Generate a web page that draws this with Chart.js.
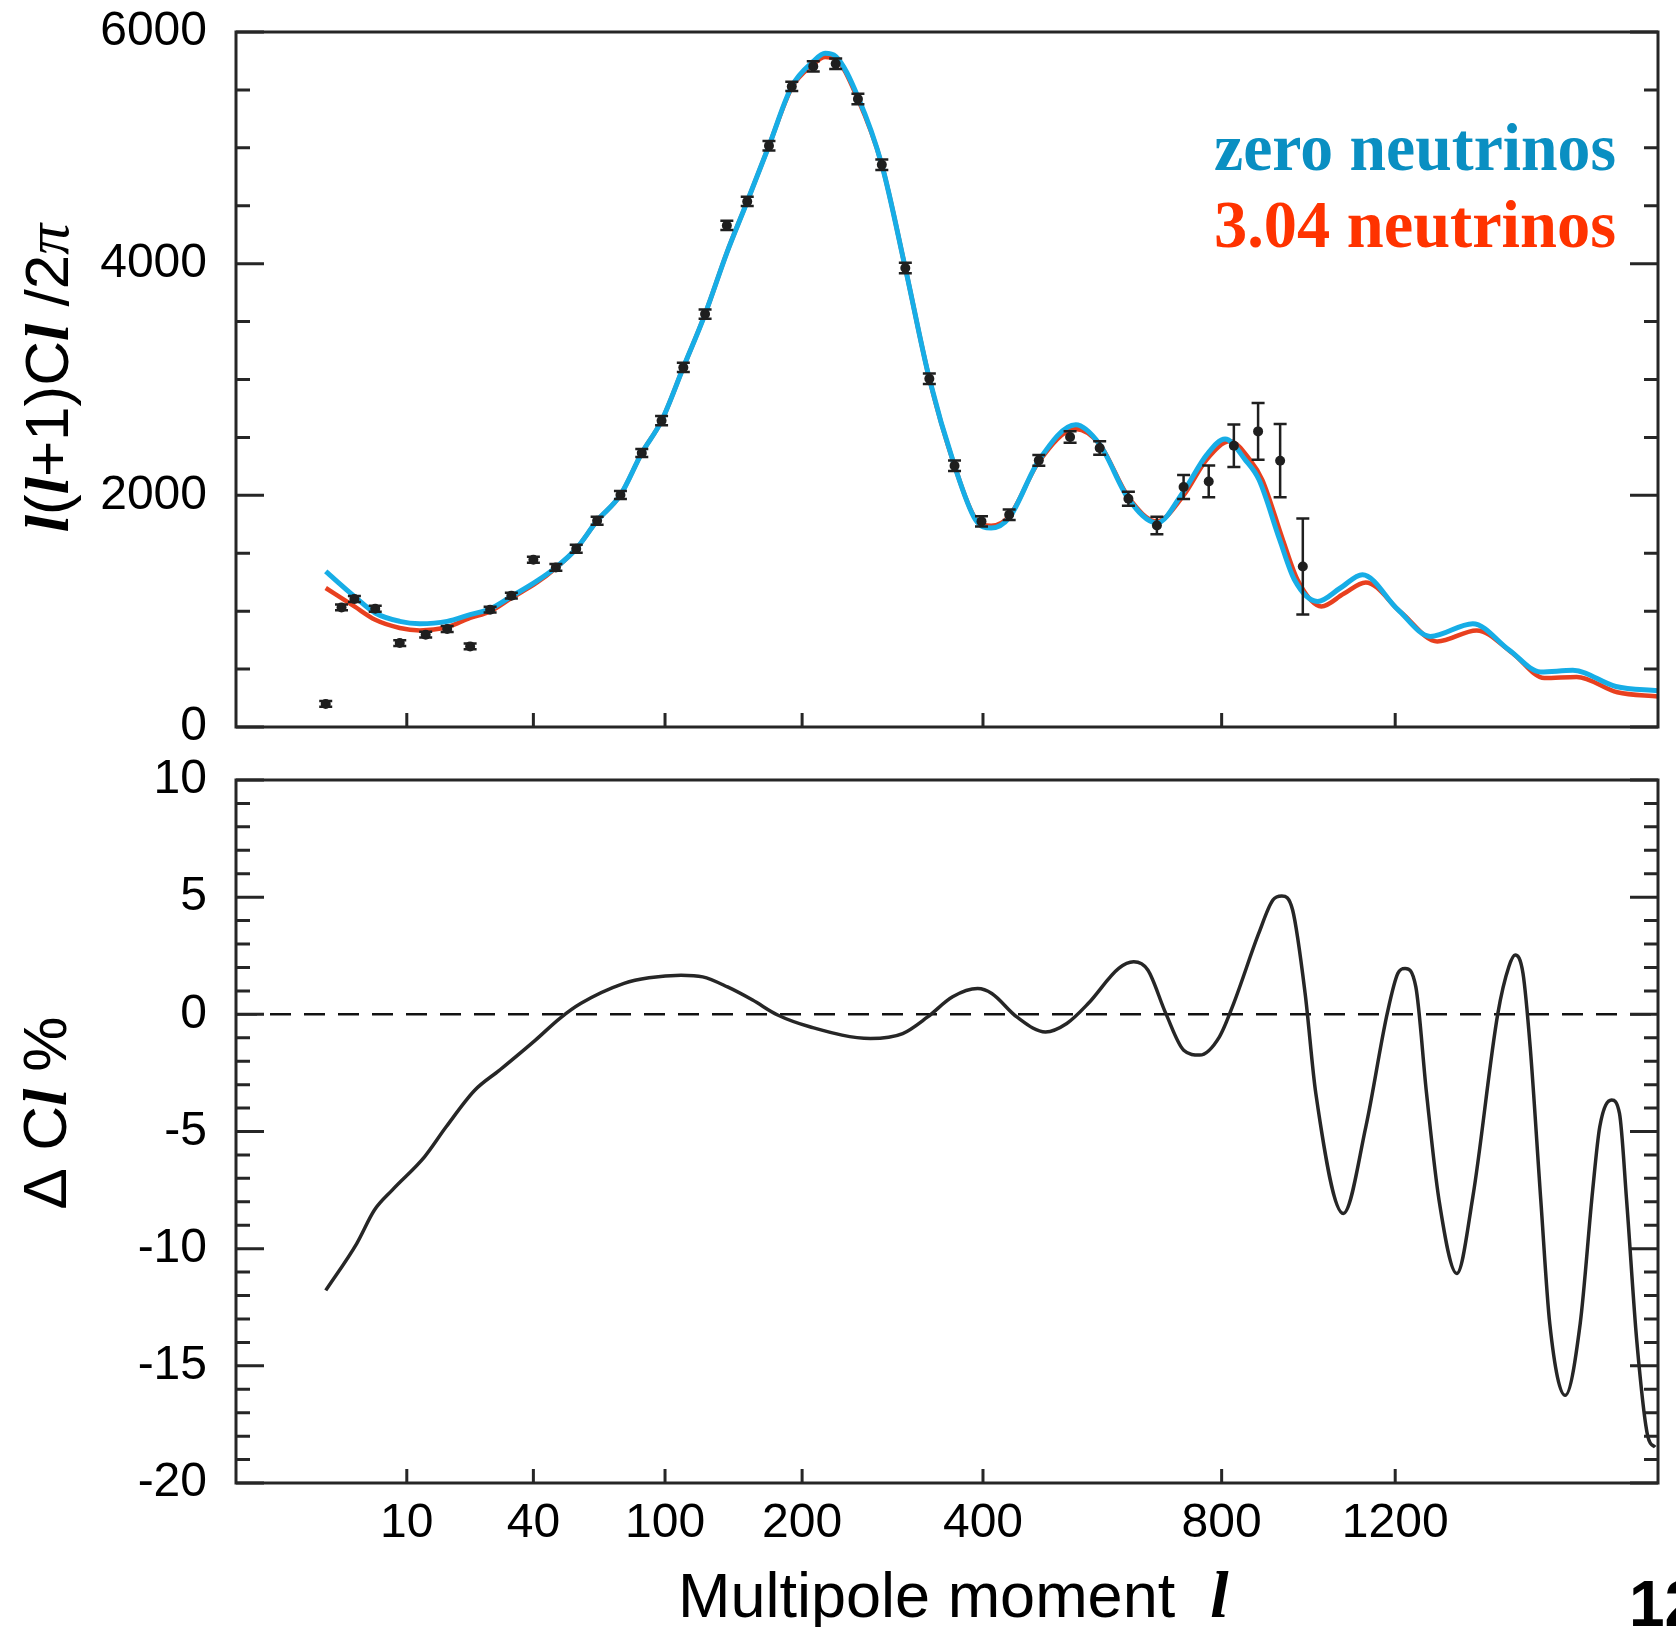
<!DOCTYPE html>
<html>
<head>
<meta charset="utf-8">
<script src="https://cdn.jsdelivr.net/npm/chart.js@4.4.1/dist/chart.umd.min.js"></script>
<style>
  html, body { margin: 0; padding: 0; background: #fff; }
  #wrap { position: relative; width: 1676px; height: 1627px; overflow: hidden; }
  canvas { position: absolute; left: 0; top: 0; }
</style>
</head>
<body>
<div id="wrap">
  <canvas id="topChart" width="1676" height="1627"></canvas>
  <canvas id="bottomChart" width="1676" height="1627"></canvas>
</div>
<script>
// multipole ticks on the shared x axis
var xTicks = [10, 40, 100, 200, 400, 800, 1200];

// model spectrum, zero neutrinos (l, l(l+1)Cl/2pi)
var zeroL = [2, 4, 6, 9, 12, 17, 22, 27, 33, 41, 48, 56, 65, 76, 87, 98, 111, 125, 140, 155, 172, 191, 210, 221, 231, 253, 278, 304, 332, 363, 390, 411, 436, 479, 536, 575, 624, 675, 725, 770, 807, 850, 878, 923, 956, 1009, 1063, 1117, 1207, 1293, 1411, 1516, 1613, 1714, 1855, 2000];
var zeroCl = [1343, 1127, 984, 912, 892, 912, 970, 1019, 1127, 1257, 1378, 1539, 1781, 2003, 2365, 2644, 3104, 3565, 4094, 4537, 5018, 5530, 5746, 5816, 5790, 5440, 4854, 3962, 3007, 2256, 1790, 1718, 1807, 2302, 2610, 2440, 1971, 1761, 2034, 2350, 2486, 2300, 2134, 1617, 1271, 1084, 1200, 1315, 1013, 782, 892, 667, 475, 489, 350, 313];

// model spectrum, 3.04 neutrinos
var stdL = [2, 4, 6, 9, 12, 17, 22, 27, 33, 41, 48, 56, 65, 76, 87, 98, 111, 125, 140, 155, 172, 191, 210, 221, 231, 253, 278, 304, 332, 363, 390, 411, 436, 479, 536, 575, 624, 675, 725, 770, 817, 860, 885, 930, 963, 1018, 1071, 1125, 1215, 1312, 1422, 1526, 1624, 1726, 1860, 2000];
var stdCl = [1200, 1041, 926, 855, 834, 863, 941, 998, 1113, 1243, 1373, 1539, 1781, 2003, 2365, 2644, 3104, 3565, 4094, 4537, 5018, 5520, 5720, 5784, 5765, 5420, 4854, 3962, 3007, 2256, 1800, 1738, 1820, 2290, 2573, 2440, 1985, 1775, 2000, 2310, 2466, 2300, 2134, 1617, 1271, 1041, 1150, 1248, 990, 739, 834, 640, 423, 432, 300, 264];

// measured band powers with error bars
var dataL = [2, 3, 4, 6, 9, 13, 17, 22, 27, 33, 40, 48, 56, 65, 76, 87, 98, 111, 125, 140, 155, 172, 191, 210, 231, 253, 278, 304, 332, 363, 398, 436, 479, 527, 575, 624, 675, 725, 774, 825, 876, 924, 975];
var dataCl = [199, 1032, 1105, 1021, 725, 797, 846, 696, 1013, 1134, 1444, 1378, 1539, 1781, 2003, 2365, 2644, 3104, 3565, 4330, 4537, 5018, 5530, 5703, 5726, 5421, 4854, 3962, 3007, 2256, 1775, 1833, 2302, 2504, 2409, 1971, 1740, 2072, 2120, 2428, 2552, 2299, 1386];
var dataErr = [25, 25, 25, 25, 25, 25, 25, 25, 25, 25, 25, 30, 35, 35, 35, 35, 40, 40, 40, 40, 40, 40, 40, 45, 45, 45, 45, 45, 45, 45, 45, 45, 47, 50, 58, 61, 76, 104, 137, 183, 245, 316, 414];

// relative difference in %
var diffL = [2, 4.2, 5.9, 8, 12.8, 16.8, 23.1, 29.6, 40.7, 49.4, 58, 77.8, 90.9, 109.6, 123.4, 140.5, 159.1, 179.1, 206.8, 265.9, 301, 330, 360.6, 392.9, 411.9, 446.8, 489, 521.8, 556.4, 607.2, 633.3, 658.5, 691.4, 725.2, 756.2, 795.5, 824.7, 877.3, 908.1, 927.7, 951.9, 980.3, 1005, 1070.2, 1125.4, 1179.5, 1207, 1225.9, 1254.1, 1282.8, 1316.7, 1366, 1411, 1483.6, 1516, 1535, 1558.5, 1580.4, 1613, 1640.9, 1689.5, 1737.5, 1778.2, 1801.5, 1840.8, 1867.3, 1891.4, 1926, 1965, 1990];
var diffPct = [-11.78, -9.78, -8.36, -7.5, -6.08, -4.80, -3.24, -2.38, -1.10, -0.18, 0.47, 1.32, 1.56, 1.67, 1.60, 1.17, 0.61, -0.03, -0.53, -1.03, -0.82, -0.11, 0.75, 1.10, 0.89, -0.11, -0.75, -0.39, 0.47, 1.96, 2.24, 1.89, 0.04, -1.53, -1.74, -0.96, 0.47, 3.45, 4.88, 5.05, 4.45, 0.89, -3.38, -8.50, -4.80, 0.04, 1.75, 1.96, 1.17, -3.38, -7.93, -11.06, -7.8, 0.04, 2.03, 2.53, 1.75, -1.39, -7.93, -13.20, -16.26, -13.20, -7.50, -4.80, -3.66, -4.23, -7.93, -13.9, -18.04, -18.47];

var XPOW = 0.4;      // the l axis is stretched as l^0.4
var SANS = '"Liberation Sans", Arial, sans-serif';
var SERIF = '"Liberation Serif", "Times New Roman", serif';
var INK = '#262626';

Chart.defaults.font.family = SANS;

// x scale: pixel goes with l^0.4
class PowerScale extends Chart.LinearScale {
  getPixelForValue(value) {
    var lo = Math.pow(this.min, XPOW), hi = Math.pow(this.max, XPOW);
    return this.getPixelForDecimal((Math.pow(Math.max(value, 0), XPOW) - lo) / (hi - lo));
  }
  getValueForPixel(pixel) {
    var lo = Math.pow(this.min, XPOW), hi = Math.pow(this.max, XPOW);
    return Math.pow(lo + this.getDecimalForPixel(pixel) * (hi - lo), 1 / XPOW);
  }
}
PowerScale.id = 'power';
Chart.register(PowerScale);

function pairs(xs, ys) {
  return xs.map(function (x, i) { return { x: x, y: ys[i] }; });
}

// fixed width for the y axis, and no extra room for its end labels
function fitY(s) {
  s.width = 236;
  s.paddingTop = 0;
  s.paddingBottom = 0;
}

// box + inward ticks
var panelFrame = {
  id: 'panelFrame',
  afterDatasetsDraw: function (chart, args, opts) {
    var ctx = chart.ctx, a = chart.chartArea;
    var xs = chart.scales.x, ys = chart.scales.y;
    ctx.save();
    ctx.strokeStyle = INK;
    ctx.lineWidth = 3;
    ctx.strokeRect(a.left, a.top, a.right - a.left, a.bottom - a.top);
    ctx.beginPath();
    for (var v = ys.min; v <= ys.max + 1e-9; v += opts.minor) {
      var py = ys.getPixelForValue(v);
      var len = Math.abs(v % opts.major) < 1e-9 ? 28 : 14;
      ctx.moveTo(a.left, py); ctx.lineTo(a.left + len, py);
      ctx.moveTo(a.right, py); ctx.lineTo(a.right - len, py);
    }
    xTicks.forEach(function (t) {
      var px = xs.getPixelForValue(t);
      ctx.moveTo(px, a.bottom); ctx.lineTo(px, a.bottom - 14);
    });
    ctx.stroke();
    ctx.restore();
  }
};

var errorBars = {
  id: 'errorBars',
  afterDatasetsDraw: function (chart) {
    var ctx = chart.ctx, xs = chart.scales.x, ys = chart.scales.y;
    ctx.save();
    ctx.strokeStyle = '#1f1f1f';
    ctx.lineWidth = 2.5;
    ctx.beginPath();
    for (var i = 0; i < dataL.length; i++) {
      var px = xs.getPixelForValue(dataL[i]);
      var lo = ys.getPixelForValue(dataCl[i] - dataErr[i]);
      var hi = ys.getPixelForValue(dataCl[i] + dataErr[i]);
      ctx.moveTo(px, lo); ctx.lineTo(px, hi);
      ctx.moveTo(px - 6.5, lo); ctx.lineTo(px + 6.5, lo);
      ctx.moveTo(px - 6.5, hi); ctx.lineTo(px + 6.5, hi);
    }
    ctx.stroke();
    ctx.restore();
  }
};

// text made of pieces in different fonts, centred on (x, y)
function drawPieces(ctx, pieces, x, y, rotated, alignLeft) {
  ctx.save();
  ctx.translate(x, y);
  if (rotated) ctx.rotate(-Math.PI / 2);
  ctx.textAlign = 'left';
  ctx.textBaseline = 'alphabetic';
  ctx.fillStyle = '#000';
  var total = 0;
  pieces.forEach(function (p) { ctx.font = p[1]; total += ctx.measureText(p[0]).width; });
  var cx = alignLeft ? 0 : -total / 2;
  pieces.forEach(function (p) {
    ctx.font = p[1];
    ctx.fillText(p[0], cx, 0);
    cx += ctx.measureText(p[0]).width;
  });
  ctx.restore();
}

var topText = {
  id: 'topText',
  afterDraw: function (chart) {
    var ctx = chart.ctx;
    ctx.save();
    ctx.textAlign = 'right';
    ctx.textBaseline = 'alphabetic';
    ctx.font = 'bold 68px ' + SERIF;
    ctx.fillStyle = '#0a8fc2';
    ctx.fillText('zero neutrinos', 1616, 170, 402);
    ctx.fillStyle = '#ff3300';
    ctx.fillText('3.04 neutrinos', 1616, 247, 402);
    ctx.restore();
    var bi = 'italic bold 62px ' + SERIF, s = '62px ' + SANS;
    drawPieces(ctx, [['l', bi], ['(', s], ['l', bi], ['+1)C', s], ['l', bi], [' /2', s], ['\u03C0', 'italic 62px ' + SERIF]], 68, 378, true);
  }
};

var bottomText = {
  id: 'bottomText',
  afterDraw: function (chart) {
    var ctx = chart.ctx;
    drawPieces(ctx, [['\u0394 C', '62px ' + SANS], ['l', 'italic bold 62px ' + SERIF], [' %', '62px ' + SANS]], 66, 1113, true);
    drawPieces(ctx, [['Multipole moment  ', '63px ' + SANS], ['l', 'italic bold 66px ' + SERIF]], 678, 1617, false, true);
    ctx.save();
    ctx.font = 'bold 64px ' + SANS;
    ctx.fillStyle = '#000';
    ctx.textAlign = 'left';
    ctx.fillText('12', 1629, 1626);
    ctx.restore();
  }
};

var tickFont = { family: SANS, size: 48 };

new Chart(document.getElementById('topChart'), {
  type: 'line',
  data: {
    datasets: [
      { label: 'data', data: pairs(dataL, dataCl), showLine: false, pointRadius: 5, pointBorderWidth: 0,
        pointBackgroundColor: '#1f1f1f', order: 0 },
      { label: 'zero neutrinos', data: pairs(zeroL, zeroCl), borderColor: '#17ade6', borderWidth: 5,
        pointRadius: 0, cubicInterpolationMode: 'monotone', order: 1 },
      { label: '3.04 neutrinos', data: pairs(stdL, stdCl), borderColor: '#e8401f', borderWidth: 4.5,
        pointRadius: 0, cubicInterpolationMode: 'monotone', order: 2 }
    ]
  },
  options: {
    responsive: false,
    animation: false,
    devicePixelRatio: 1,
    layout: { padding: { left: 0, top: 32, right: 18, bottom: 900 } },
    plugins: { legend: { display: false }, tooltip: { enabled: false }, panelFrame: { major: 2000, minor: 500 } },
    scales: {
      x: { type: 'power', min: 0, max: 2000, display: false },
      y: {
        type: 'linear', min: 0, max: 6000,
        ticks: { stepSize: 2000, font: tickFont, color: '#000', padding: 29, callback: function (v) { return String(v); } },
        grid: { display: false, drawTicks: false },
        border: { display: false },
        afterFit: fitY
      }
    }
  },
  plugins: [panelFrame, errorBars, topText]
});

new Chart(document.getElementById('bottomChart'), {
  type: 'line',
  data: {
    datasets: [
      { label: 'difference', data: pairs(diffL, diffPct), borderColor: INK, borderWidth: 3.5,
        pointRadius: 0, cubicInterpolationMode: 'monotone', order: 1 },
      { label: 'zero', data: [{ x: 0, y: 0 }, { x: 2000, y: 0 }], borderColor: '#111', borderWidth: 2.5,
        borderDash: [21, 13], pointRadius: 0, order: 2 }
    ]
  },
  options: {
    responsive: false,
    animation: false,
    devicePixelRatio: 1,
    layout: { padding: { left: 0, top: 780, right: 18, bottom: 0 } },
    plugins: { legend: { display: false }, tooltip: { enabled: false }, panelFrame: { major: 5, minor: 1 } },
    scales: {
      x: {
        type: 'power', min: 0, max: 2000,
        afterBuildTicks: function (s) { s.ticks = xTicks.map(function (v) { return { value: v }; }); },
        ticks: { font: tickFont, color: '#000', padding: 12, autoSkip: false, maxRotation: 0,
                 callback: function (v) { return String(v); } },
        grid: { display: false, drawTicks: false },
        border: { display: false },
        afterFit: function (s) { s.height = 144; }
      },
      y: {
        type: 'linear', min: -20, max: 10,
        ticks: { stepSize: 5, font: tickFont, color: '#000', padding: 29, callback: function (v) { return String(v); } },
        grid: { display: false, drawTicks: false },
        border: { display: false },
        afterFit: fitY
      }
    }
  },
  plugins: [panelFrame, bottomText]
});
</script>
</body>
</html>
